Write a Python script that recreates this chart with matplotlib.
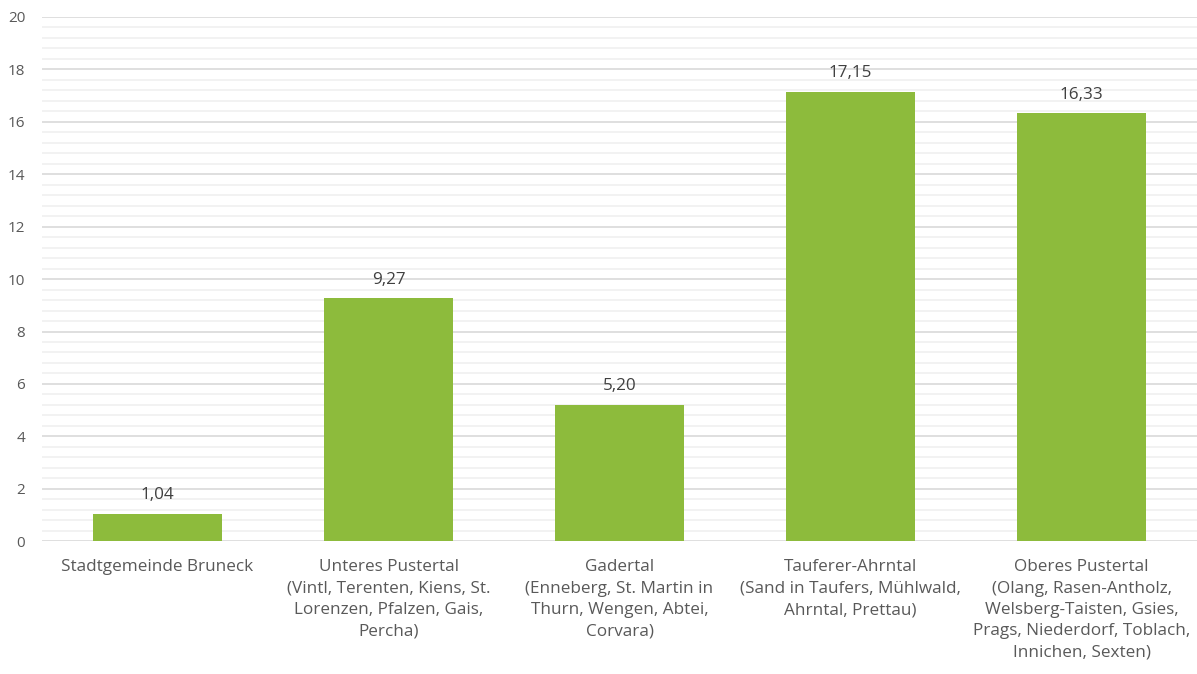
import matplotlib
matplotlib.use("Agg")
import matplotlib.pyplot as plt
from matplotlib.ticker import MultipleLocator

regions = [
    "Stadtgemeinde Bruneck",
    "Unteres Pustertal\n(Vintl, Terenten, Kiens, St.\nLorenzen, Pfalzen, Gais,\nPercha)",
    "Gadertal\n(Enneberg, St. Martin in\nThurn, Wengen, Abtei,\nCorvara)",
    "Tauferer-Ahrntal\n(Sand in Taufers, Mühlwald,\nAhrntal, Prettau)",
    "Oberes Pustertal\n(Olang, Rasen-Antholz,\nWelsberg-Taisten, Gsies,\nPrags, Niederdorf, Toblach,\nInnichen, Sexten)",
]
values = [1.04, 9.27, 5.20, 17.15, 16.33]

plt.rcParams['font.family'] = ['Open Sans', 'DejaVu Sans']

fig = plt.figure(figsize=(11.97, 6.74), dpi=100)
ax = fig.add_axes([0.0351, 0.197, 0.9649, 0.7778])

x = range(len(values))
bars = ax.bar(x, values, width=0.555, color="#8DBB3C", zorder=3)

for b, v in zip(bars, values):
    ax.text(b.get_x() + b.get_width() / 2, v + 0.4, f"{v:.2f}".replace(".", ","),
            ha="center", va="bottom", fontsize=12.3, color="#404040")

ax.set_xlim(-0.5, len(values) - 0.5)
ax.set_ylim(0, 20)
ax.yaxis.set_major_locator(MultipleLocator(2))
ax.yaxis.set_minor_locator(MultipleLocator(0.4))
ax.grid(which="major", axis="y", color="#D9D9D9", linewidth=1.2, zorder=0)
ax.grid(which="minor", axis="y", color="#F0F0F0", linewidth=1.2, zorder=0)

ax.set_xticks(list(x))
ax.set_xticklabels(regions, fontsize=12.3, color="#595959", linespacing=1.45)
ax.tick_params(axis="x", length=0, pad=13)
ax.tick_params(axis="y", which="both", length=0, labelsize=11, labelcolor="#595959", pad=12)

for s in ax.spines.values():
    s.set_visible(False)

fig.savefig("out.png", dpi=100)
